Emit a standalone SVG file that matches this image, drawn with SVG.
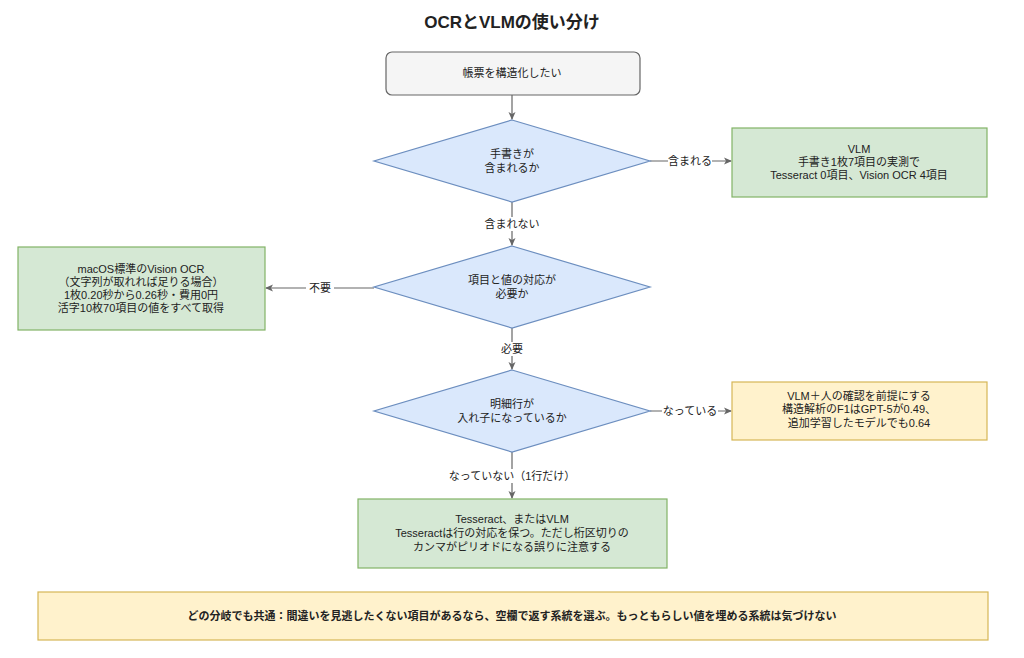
<svg xmlns="http://www.w3.org/2000/svg" width="1024" height="658" viewBox="0 0 1024 658">
<defs>
<marker id="ah" markerWidth="8" markerHeight="8" refX="7" refY="4" orient="auto" markerUnits="userSpaceOnUse"><path d="M0,0.5 L8,4 L0,7.5 L2,4 Z" fill="#666"/></marker>
<style>
text{font-family:"Liberation Sans","Noto Sans CJK JP",sans-serif;font-size:11px;fill:#222;text-anchor:middle}
.t{font-size:17px;font-weight:bold}
.b{font-weight:bold}
.g{fill:#d5e8d4;stroke:#82b366;stroke-width:1.2}
.y{fill:#fff2cc;stroke:#d6b656;stroke-width:1.2}
.d{fill:#dae8fc;stroke:#6c8ebf;stroke-width:1.2}
.s{fill:#f5f5f5;stroke:#666;stroke-width:1.2}
.c{stroke:#666;stroke-width:1.2;fill:none;marker-end:url(#ah)}
.lb{fill:#fff}
</style>
</defs>
<rect width="1024" height="658" fill="#fff"/>
<text class="t" x="512" y="28">OCRとVLMの使い分け</text>
<g id="connectors">
<path class="c" d="M512,95 V119"/>
<path class="c" d="M650,161 H731"/>
<path class="c" d="M512,202 V245"/>
<path class="c" d="M374,288 H266"/>
<path class="c" d="M512,328 V369"/>
<path class="c" d="M650,411 H731"/>
<path class="c" d="M512,452 V498"/>
<rect class="lb" x="668" y="154" width="44" height="14"/><text x="690" y="165">含まれる</text>
<rect class="lb" x="482" y="217" width="60" height="14"/><text x="512" y="228">含まれない</text>
<rect class="lb" x="306" y="281" width="28" height="14"/><text x="320" y="292">不要</text>
<rect class="lb" x="498" y="342" width="28" height="14"/><text x="512" y="353">必要</text>
<rect class="lb" x="662" y="404" width="56" height="14"/><text x="690" y="415">なっている</text>
<rect class="lb" x="445" y="469" width="134" height="14"/><text x="512" y="480">なっていない（1行だけ）</text>
</g>
<g id="start"><rect class="s" x="386" y="52" width="254" height="43" rx="6"/><text x="512" y="77">帳票を構造化したい</text></g>
<g id="q1"><path class="d" d="M512,120 L650,161 L512,202 L374,161 Z"/><text x="512" y="158">手書きが</text><text x="512" y="172">含まれるか</text></g>
<g id="vlm"><rect class="g" x="732" y="128" width="255" height="69"/><text x="859" y="153">VLM</text><text x="859" y="166">手書き1枚7項目の実測で</text><text x="859" y="179">Tesseract 0項目、Vision OCR 4項目</text></g>
<g id="q2"><path class="d" d="M512,246 L650,287 L512,328 L374,287 Z"/><text x="512" y="284">項目と値の対応が</text><text x="512" y="298">必要か</text></g>
<g id="vision"><rect class="g" x="18" y="247" width="247" height="83"/><text x="141" y="273">macOS標準のVision OCR</text><text x="141" y="286">（文字列が取れれば足りる場合）</text><text x="141" y="299">1枚0.20秒から0.26秒・費用0円</text><text x="141" y="312">活字10枚70項目の値をすべて取得</text></g>
<g id="q3"><path class="d" d="M512,370 L650,411 L512,452 L374,411 Z"/><text x="512" y="408">明細行が</text><text x="512" y="422">入れ子になっているか</text></g>
<g id="human"><rect class="y" x="732" y="382" width="255" height="58"/><text x="859" y="400">VLM＋人の確認を前提にする</text><text x="859" y="413">構造解析のF1はGPT-5が0.49、</text><text x="859" y="427">追加学習したモデルでも0.64</text></g>
<g id="tess"><rect class="g" x="358" y="499" width="309" height="69"/><text x="512" y="523">Tesseract、またはVLM</text><text x="512" y="537">Tesseractは行の対応を保つ。ただし桁区切りの</text><text x="512" y="551">カンマがピリオドになる誤りに注意する</text></g>
<g id="note"><rect class="y" x="38" y="592" width="950" height="48"/><text class="b" x="512" y="620">どの分岐でも共通：間違いを見逃したくない項目があるなら、空欄で返す系統を選ぶ。もっともらしい値を埋める系統は気づけない</text></g>
</svg>
